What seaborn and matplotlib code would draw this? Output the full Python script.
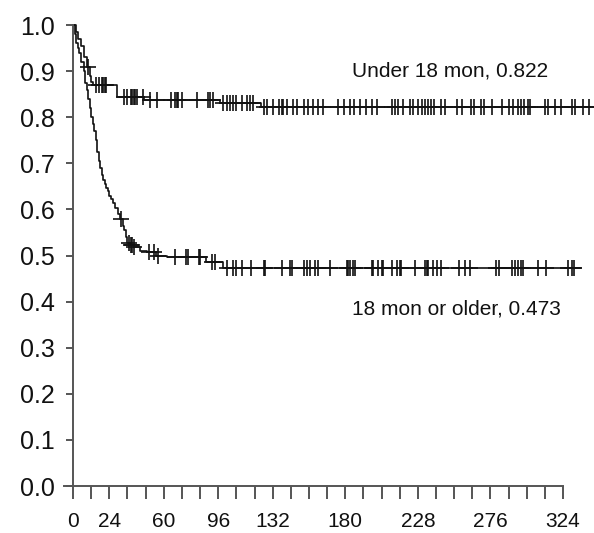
import numpy as np
import pandas as pd
import matplotlib
matplotlib.use("Agg")
import matplotlib.pyplot as plt
import seaborn as sns

# Kaplan-Meier step points (months, survival)
young_t = [0, 2, 3, 5, 7, 9, 11, 12, 13, 29, 47, 97, 124, 345]
young_s = [1.0, 0.985, 0.97, 0.955, 0.93, 0.91, 0.89, 0.877, 0.870, 0.844, 0.837, 0.830, 0.822, 0.822]
old_t = [0, 1, 2, 3, 4, 5.5, 7, 8, 9, 10, 11, 12, 13, 14, 15, 16, 17, 18, 19, 20,
         21, 22, 23, 24, 25, 26.5, 28, 30, 31, 33, 34, 35, 36, 38, 40, 44, 49, 55,
         62, 88, 99, 336]
old_s = [1.0, 0.98, 0.96, 0.95, 0.94, 0.92, 0.90, 0.875, 0.86, 0.84, 0.82, 0.80,
         0.785, 0.77, 0.75, 0.725, 0.705, 0.69, 0.675, 0.663, 0.655, 0.647, 0.64,
         0.63, 0.622, 0.613, 0.603, 0.59, 0.58, 0.565, 0.555, 0.54, 0.528, 0.522,
         0.518, 0.511, 0.507, 0.50, 0.496, 0.485, 0.473, 0.473]

# censored times
young_c = [9.7, 15, 17, 19, 20, 21, 22, 34, 36, 38, 39, 40, 41, 42, 46, 51, 55.5,
           65, 67.5, 68.6, 69.7, 72, 82, 89, 90.6, 92.6, 99, 102, 104, 106, 108,
           112, 115, 117, 119, 126, 128, 132, 136, 138, 139, 141.5, 145.5, 148,
           153, 155.5, 159, 162, 165, 175, 179, 183, 186, 190, 194, 198, 201, 211,
           213, 215, 218, 223, 225, 228, 231, 233, 235, 237, 239, 243, 246, 254,
           257, 263, 265, 270, 272, 277, 284, 288, 291, 294, 296, 298, 301, 302,
           312, 314, 319, 323, 330, 332, 337, 341]
old_c = [31.7, 37, 38, 39, 40, 50, 53.6, 56, 67.5, 75, 76, 83, 84, 92, 94, 101.6,
         106, 108, 111.6, 118, 126, 127, 138, 143.5, 144.6, 153, 155, 157, 160, 162,
         170, 181, 182, 183, 185, 186.5, 197.5, 198.5, 201.6, 204, 205, 210.8, 214,
         216, 217, 226, 233, 234, 235, 238, 240.5, 243, 255, 259, 262.6, 280, 282,
         290, 292, 294, 296, 297.6, 307.5, 313, 327, 330, 331]

xtick_pos = list(range(0, 325, 12))
xtick_labeled = [0, 24, 60, 96, 132, 180, 228, 276, 324]


def step_at(times, surv, t):
    idx = np.searchsorted(times, t, side="right") - 1
    return np.asarray(surv)[idx]


curves = pd.concat([
    pd.DataFrame({"month": young_t, "surv": young_s, "group": "young"}),
    pd.DataFrame({"month": old_t, "surv": old_s, "group": "old"}),
])
cens = pd.concat([
    pd.DataFrame({"month": young_c, "surv": step_at(young_t, young_s, young_c), "group": "young"}),
    pd.DataFrame({"month": old_c, "surv": step_at(old_t, old_s, old_c), "group": "old"}),
])

sns.set_style("white")
plt.rcParams["font.family"] = ["Liberation Sans", "DejaVu Sans"]

fig = plt.figure(figsize=(5.94, 5.33), dpi=100)
ax = fig.add_axes([0.1077, 0.088, 0.891, 0.865])

for g, d in curves.groupby("group"):
    sns.lineplot(data=d, x="month", y="surv", ax=ax, color="#111111", lw=1.2,
                 drawstyle="steps-post", estimator=None, sort=False, clip_on=False)
sns.scatterplot(data=cens, x="month", y="surv", ax=ax, marker="+", s=130,
                color="#111111", linewidth=1.2, legend=False)

ax.set_xlim(-6, 344)
ax.set_ylim(0, 1.0)
ax.set_xlabel("")
ax.set_ylabel("")

for s in ["top", "right"]:
    ax.spines[s].set_visible(False)
spine_col = "#555555"
ax.spines["left"].set_position(("data", 0))
ax.spines["bottom"].set_bounds(-6, 324)
for s in ["left", "bottom"]:
    ax.spines[s].set_color(spine_col)
    ax.spines[s].set_linewidth(1.4)

ax.set_yticks(np.round(np.arange(0, 1.01, 0.1), 1))
ax.set_yticklabels([f"{v:.1f}" for v in np.arange(0, 1.01, 0.1)])
ax.set_xticks(xtick_pos)
ax.set_xticklabels([str(v) if v in xtick_labeled else "" for v in xtick_pos])
ax.tick_params(axis="y", direction="out", length=5, width=1.4, color=spine_col,
               labelsize=18, pad=8, left=True, labelcolor="#111111")
ax.tick_params(axis="x", direction="out", length=9, width=1.4, color=spine_col,
               labelsize=15, pad=10, bottom=True, labelcolor="#111111")

ax.text(184.5, 0.90, "Under 18 mon, 0.822", fontsize=15, va="center", ha="left",
        color="#111111")
ax.text(184.5, 0.385, "18 mon or older, 0.473", fontsize=15, va="center", ha="left",
        color="#111111")

fig.savefig("out.png", dpi=100)
